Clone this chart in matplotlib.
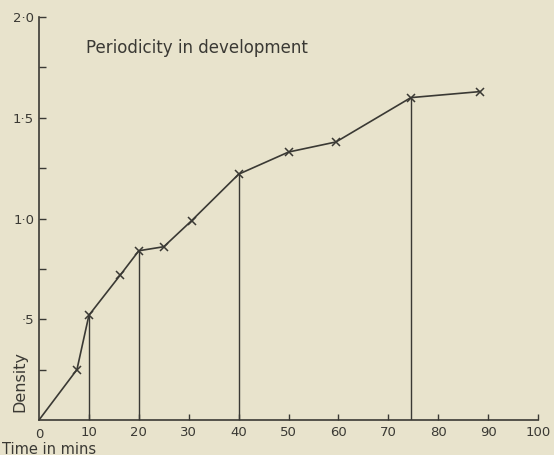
# Periodicity in development - density vs time

import matplotlib.pyplot as plt

# data
time_mins = [0, 7.6, 10, 16.3, 20, 25, 30.6, 40, 50, 59.5, 74.5, 88.4]
density = [0, 0.25, 0.52, 0.72, 0.84, 0.86, 0.99, 1.22, 1.33, 1.38, 1.60, 1.63]
drop_lines = [10, 20, 40, 74.5]  # x positions with vertical lines

x_ticks = [0, 10, 20, 30, 40, 50, 60, 70, 80, 90, 100]
x_labels = ["0", "10", "20", "30", "40", "50", "60", "70", "80", "90", "100"]
y_ticks = [0.5, 1.0, 1.5, 2.0]
y_labels = ["·5", "1·0", "1·5", "2·0"]
y_minor = [0.25, 0.75, 1.25, 1.75]

bg = "#e8e3cc"
ink = "#3a3934"

fig = plt.figure(figsize=(5.54, 4.55), dpi=100, facecolor=bg)
ax = fig.add_axes([0.0704, 0.0769, 0.901, 0.8857], facecolor=bg)

ax.plot(time_mins[1:], density[1:], color=ink, lw=1.2, marker="x", ms=6, mew=1.1)
ax.plot(time_mins[:2], density[:2], color=ink, lw=1.2)
for xv in drop_lines:
    yv = density[time_mins.index(xv)]
    ax.vlines(xv, 0, yv, color=ink, lw=1.0)

ax.set_xlim(0, 100)
ax.set_ylim(0, 2.0)
for s in ["top", "right"]:
    ax.spines[s].set_visible(False)
for s in ["left", "bottom"]:
    ax.spines[s].set_color(ink)
    ax.spines[s].set_linewidth(1.2)

ax.set_xticks(x_ticks[1:])
ax.set_xticklabels(x_labels[1:])
ax.set_yticks(y_ticks)
ax.set_yticklabels(y_labels)
ax.set_yticks(y_minor, minor=True)
ax.tick_params(axis="both", direction="in", color=ink, labelcolor=ink,
               labelsize=9.5, length=5, width=1.0)
ax.tick_params(axis="x", pad=4, length=4)
ax.tick_params(axis="y", which="minor", direction="in", length=5, width=1.0, color=ink)

fig.text(39 / 554, 1 - 435 / 455, "0", ha="center", va="center", fontsize=9.5, color=ink)
ax.text(9.4, 1.845, "Periodicity in development", fontsize=12, color=ink, va="center")
fig.text(20 / 554, 1 - 381 / 455, "Density", rotation=90, ha="center", va="center",
         fontsize=11.5, color=ink)
fig.text(2 / 554, 1 - 449 / 455, "Time in mins", ha="left", va="center",
         fontsize=10.5, color=ink)

fig.savefig("out.png", dpi=100, facecolor=bg)
